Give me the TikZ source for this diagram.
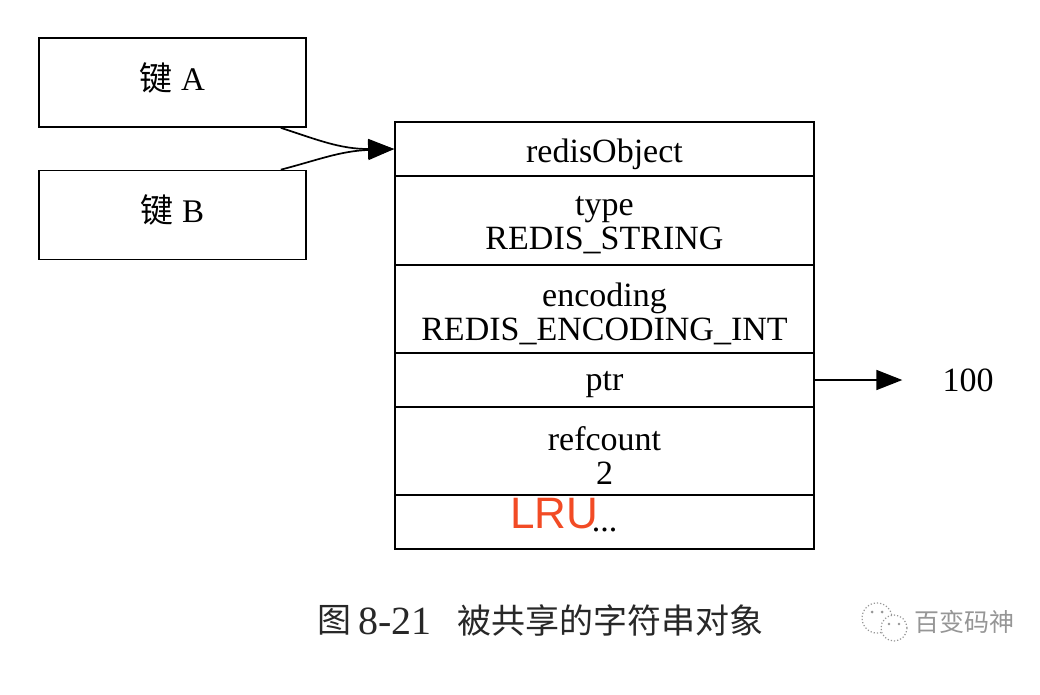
\documentclass[tikz,border=0pt]{standalone}
\usepackage{fontspec}
\setmainfont{Liberation Serif}
\newfontfamily\cjk{Noto Sans CJK SC}
\newfontfamily\lrufont{Liberation Sans}
\usetikzlibrary{arrows.meta}
\definecolor{lru}{RGB}{242,75,37}
\definecolor{wm}{RGB}{150,150,150}
\definecolor{captxt}{RGB}{40,40,40}
\begin{document}
\begin{tikzpicture}[x=1pt,y=-1pt,
  box/.style={draw, line width=1.7pt, minimum width=267pt, minimum height=89pt, inner sep=0pt},
  row/.style={draw, line width=1.7pt, minimum width=419pt, inner sep=0pt},
  rowtext/.style={inner sep=0pt, align=center, font=\fontsize{34}{34}\selectfont},
  edge/.style={line width=1.7pt, -{Triangle[length=26pt,width=20pt]}},
  plain/.style={inner sep=0pt, font=\fontsize{34}{34}\selectfont},
]
\useasboundingbox (0,0) rectangle (1040,694);
\node[box] (keyA) at (172.5,82.5) {};
\node[box] (keyB) at (172.5,215) {};
\node[rowtext, font=\fontsize{33}{34}\selectfont] (kA) at ([yshift=5pt]keyA.center) {{\cjk 键} A};
\node[rowtext, font=\fontsize{33}{34}\selectfont] (kB) at ([yshift=5pt]keyB.center) {{\cjk 键} B};
\node[row, minimum height=54pt] (r1) at (604.5,149) {};
\node[row, minimum height=89pt] (r2) at (604.5,220.5) {};
\node[row, minimum height=88pt] (r3) at (604.5,309) {};
\node[row, minimum height=54pt] (r4) at (604.5,380) {};
\node[row, minimum height=88pt] (r5) at (604.5,451) {};
\node[row, minimum height=54pt] (r6) at (604.5,522) {};
\node[rowtext] (t1) at ([yshift=-5pt]r1.center) {redisObject};
\node[rowtext] (t2) at ([yshift=-5pt]r2.center) {type\\REDIS\_STRING};
\node[rowtext] (t3) at ([yshift=-5pt]r3.center) {encoding\\REDIS\_ENCODING\_INT};
\node[rowtext] (t4) at ([yshift=-5pt]r4.center) {ptr};
\node[rowtext] (t5) at ([yshift=-5pt]r5.center) {refcount\\2};
\node[rowtext] (t6) at ([yshift=-8pt]r6.center) {...};
\node[plain] (val) at (968,380) {100};
\draw[edge] ([xshift=-26pt]keyA.south east) .. controls (318,140) and (340,149) .. (r1.west);
\draw[edge] ([xshift=-26pt]keyB.north east) .. controls (318,160) and (340,151) .. (r1.west);
\draw[edge] (r4.east) -- ([xshift=-40pt]val.west);
\node[inner sep=0pt, anchor=base west, text=lru, font=\lrufont\fontsize{44}{44}\selectfont] (lrutext) at (510,528) {LRU};
\node[inner sep=0pt, anchor=west, text=captxt, font=\cjk\fontsize{34}{34}\selectfont] (cap0) at (317,620) {图};
\node[inner sep=0pt, anchor=base west, text=captxt, font=\fontsize{40}{40}\selectfont] (cap1) at (358,634) {8-21};
\node[inner sep=0pt, anchor=west, text=captxt, font=\cjk\fontsize{34}{34}\selectfont] (cap2) at (457,620) {被共享的字符串对象};
\draw[wm, line width=1.2pt, dotted] (877,618) circle (15pt);
\draw[wm, line width=1.2pt, dotted, fill=white] (894,628) circle (13pt);
\fill[wm] (872,612) circle (1.5pt) (882,612) circle (1.5pt) (889,624) circle (1.3pt) (899,624) circle (1.3pt);
\node[inner sep=0pt, anchor=west, text=wm, font=\cjk\fontsize{25}{25}\selectfont] (wmtext) at (914,622) {百变码神};
\end{tikzpicture}
\end{document}
